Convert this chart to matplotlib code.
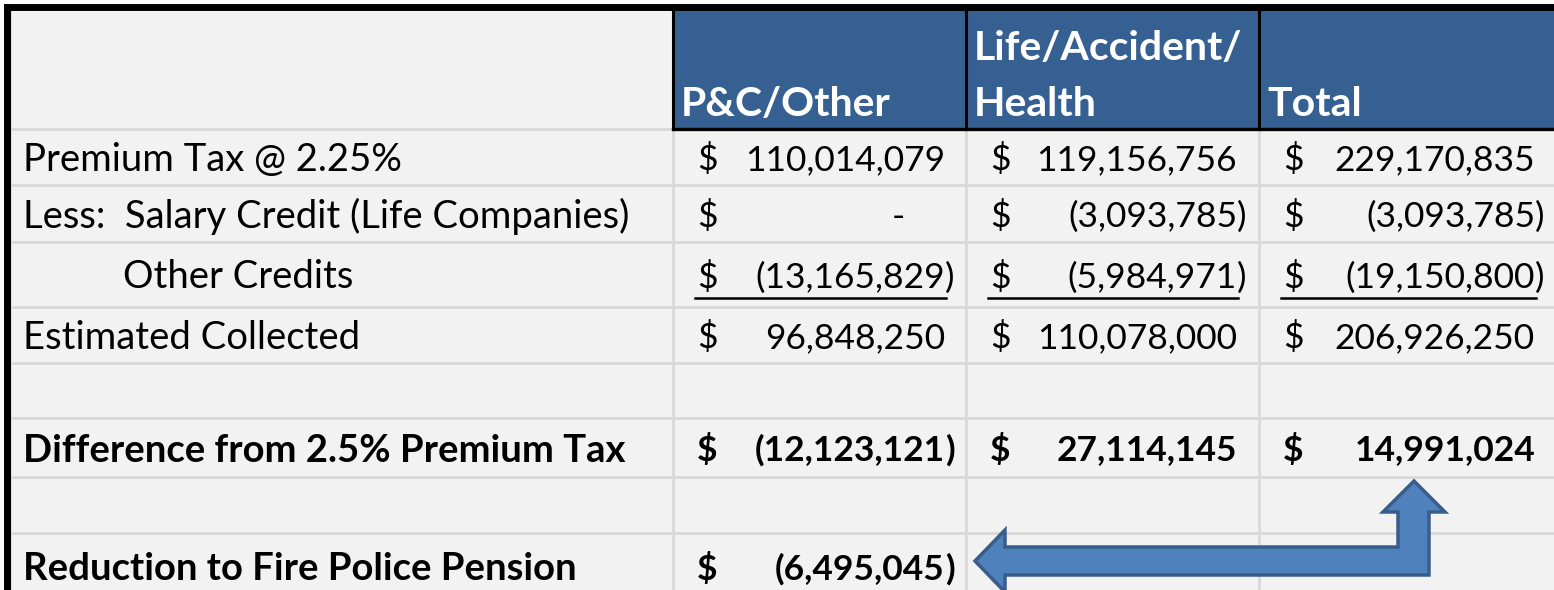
import matplotlib.pyplot as plt
from matplotlib.patches import Rectangle, Polygon

plt.rcParams['font.family'] = ['Lato', 'DejaVu Sans']

# ---------------------------------------------------------------- data
col_headers = [['P&C/Other'], ['Life/Accident/', 'Health'], ['Total']]
row_labels = ['Premium Tax @ 2.25%',
              'Less:  Salary Credit (Life Companies)',
              'Other Credits',
              'Estimated Collected',
              '',
              'Difference from 2.5% Premium Tax',
              '',
              'Reduction to Fire Police Pension']
pc_other = [110014079, 0, -13165829, 96848250, None, -12123121, None, -6495045]
life_health = [119156756, -3093785, -5984971, 110078000, None, 27114145, None, None]
total = [229170835, -3093785, -19150800, 206926250, None, 14991024, None, None]
bold_rows = [5, 7]
indent_rows = [2]
underline_rows = [2]

# ---------------------------------------------------------------- layout (pixels)
W, H = 1554, 590
col_edges = [10, 673, 966, 1259, 1570]
row_edges = [10, 129, 185, 242, 307, 363, 418, 477, 533, 600]
dollar_x = [697, 990, 1283]
value_right = [945, 1237, 1535]

bg = '#F2F2F2'
grid = '#D9D9D9'
head_blue = '#366092'

fs_label = 27.5
fs_label_bold = 27.5
fs_value = 25.5
fs_head = 29.5

fig = plt.figure(figsize=(W / 100, H / 100), dpi=100)
ax = fig.add_axes([0, 0, 1, 1])
ax.set_xlim(0, W)
ax.set_ylim(H, 0)
ax.axis('off')

ax.add_patch(Rectangle((0, 0), W, H, color='white', zorder=0))
ax.add_patch(Rectangle((7, 7), W, H, color=bg, zorder=0))

# grid lines
for y in row_edges[1:-1]:
    ax.plot([10, W], [y, y], color=grid, lw=2.0, zorder=1)
for x in col_edges[:-1]:
    ax.plot([x, x], [10, H], color=grid, lw=2.0, zorder=1)

# header cells
for i, lines in enumerate(col_headers):
    x0, x1 = col_edges[i + 1], col_edges[i + 2]
    ax.add_patch(Rectangle((x0, row_edges[0]), x1 - x0, row_edges[1] - row_edges[0],
                           color=head_blue, zorder=2))
    for k, line in enumerate(lines):
        y = 104 - 56 * (len(lines) - 1 - k)
        ax.text(x0 + 8, y, line, color='white', fontsize=fs_head, fontweight='bold',
                ha='left', va='center', zorder=4)
for x in col_edges[1:4]:
    ax.plot([x, x], [row_edges[0], row_edges[1]], color='black', lw=2.2, zorder=3)
ax.plot([col_edges[1], W], [row_edges[1], row_edges[1]], color='black', lw=2.4, zorder=3)

# outer frame
ax.plot([6.5, 6.5, W], [H, 7, 7], color='black', lw=5.0, solid_joinstyle='miter', zorder=5)

# body
for r, label in enumerate(row_labels):
    yc = (row_edges[r + 1] + row_edges[r + 2]) / 2 + 3
    bold = r in bold_rows
    weight = 'bold' if bold else 'normal'
    lx = 123 if r in indent_rows else 23
    if label:
        ax.text(lx, yc, label, fontsize=fs_label_bold if bold else fs_label,
                fontweight=weight, ha='left', va='center', zorder=4)
    for c, col in enumerate([pc_other, life_health, total]):
        v = col[r]
        if v is None:
            continue
        ax.text(dollar_x[c], yc, '$', fontsize=fs_value, fontweight=weight,
                ha='left', va='center', zorder=4)
        if v == 0:
            ax.text(value_right[c] - 47, yc, '-', fontsize=fs_value, fontweight=weight,
                    ha='center', va='center', zorder=4)
        elif v < 0:
            ax.text(value_right[c], yc, '({:,}'.format(-v), fontsize=fs_value, fontweight=weight,
                    ha='right', va='center', zorder=4)
            ax.text(value_right[c], yc, ')', fontsize=fs_value, fontweight=weight,
                    ha='left', va='center', zorder=4)
        else:
            ax.text(value_right[c], yc, '{:,}'.format(v), fontsize=fs_value, fontweight=weight,
                    ha='right', va='center', zorder=4)
        if r in underline_rows:
            ax.plot([dollar_x[c] - 2, value_right[c] + 1], [298, 298], color='black',
                    lw=1.8, zorder=4)

# bent arrow from the total difference down to the pension reduction
arrow = [(975, 561), (1005, 530), (1005, 547), (1398, 547), (1398, 512), (1383, 512),
         (1414, 481), (1445, 512), (1429, 512), (1429, 575), (1005, 575), (1005, 592)]
ax.add_patch(Polygon(arrow, closed=True, facecolor='#4F81BD', edgecolor='#385D8A',
                     lw=2.5, joinstyle='miter', zorder=6))

plt.savefig('out.png', dpi=100)
